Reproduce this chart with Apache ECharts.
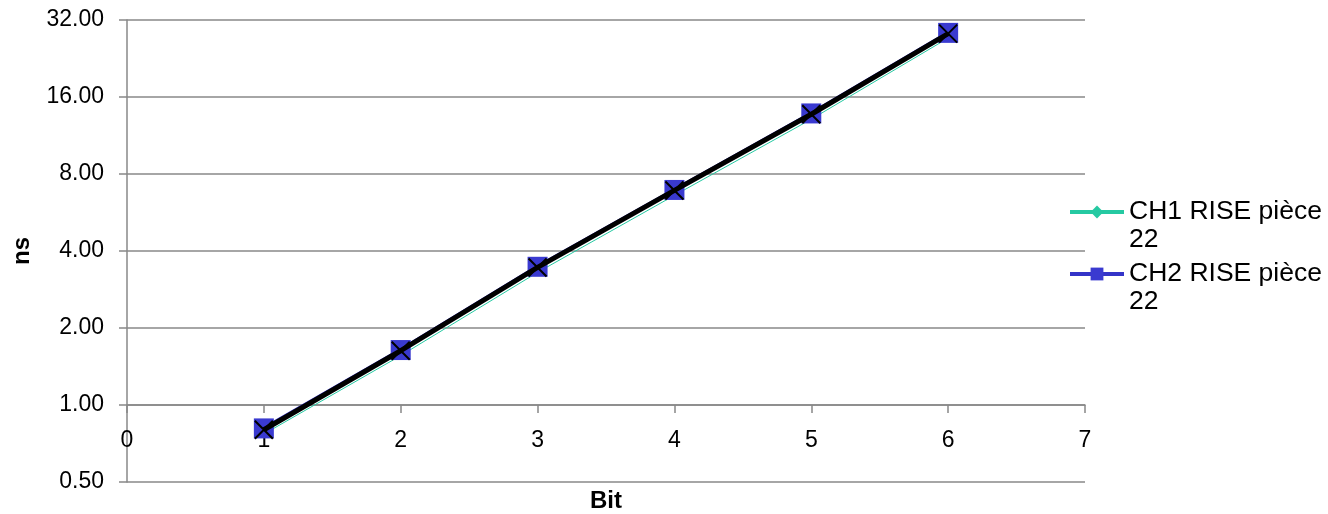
<!DOCTYPE html>
<html>
<head>
<meta charset="utf-8">
<script src="https://cdn.jsdelivr.net/npm/echarts@6/dist/echarts.min.js"></script>
<style>html,body{margin:0;padding:0;background:#fff;}#c{width:1328px;height:514px;}</style>
</head>
<body>
<div id="c"></div>
<script>
var bits = [1, 2, 3, 4, 5, 6];
var ch1Rise = [0.77, 1.56, 3.30, 6.60, 13.1, 27.2];
var ch2Rise = [0.81, 1.64, 3.47, 6.93, 13.8, 28.5];
var trend = [0.80, 1.63, 3.45, 6.90, 13.7, 28.3];
var xTicks = [0, 1, 2, 3, 4, 5, 6, 7];
var yTicks = [0.5, 1, 2, 4, 8, 16, 32];
var names = ['CH1 RISE pièce 22', 'CH2 RISE pièce 22'];

function pairs(ys) { return bits.map(function (b, i) { return [b, ys[i]]; }); }

var FONT = 'Liberation Sans, Arial, sans-serif';
var FS = 23;
var LFS = 26.5;
var chart = echarts.init(document.getElementById('c'));
var legendText = { fontFamily: FONT, fontSize: LFS, color: '#000', lineHeight: 28 };
function legendFmt(n) { return '\n' + n.replace(' 22', '\n22'); }
chart.setOption({
  animation: false,
  backgroundColor: '#fff',
  grid: { left: 127, right: 243, top: 20, bottom: 32, containLabel: false },
  legend: [
    {
      data: [{ name: names[0] }], orient: 'vertical', left: 1063, top: 165,
      itemWidth: 54, itemHeight: 16, itemGap: 0,
      lineStyle: { width: 4 },
      textStyle: legendText, formatter: legendFmt
    },
    {
      data: [{ name: names[1] }], orient: 'vertical', left: 1063, top: 227,
      itemWidth: 54, itemHeight: 16, itemGap: 0,
      lineStyle: { width: 4 },
      textStyle: legendText, formatter: legendFmt
    }
  ],
  xAxis: {
    type: 'value', min: xTicks[0], max: xTicks[xTicks.length - 1], interval: 1,
    offset: -77,
    axisLine: { show: true, lineStyle: { color: '#888', width: 1.5 } },
    axisTick: { show: true, length: 8, inside: false, lineStyle: { color: '#888', width: 1.5 } },
    splitLine: { show: false },
    axisLabel: { color: '#000', fontFamily: FONT, fontSize: FS, margin: 24 }
  },
  yAxis: {
    type: 'log', logBase: 2, min: yTicks[0], max: yTicks[yTicks.length - 1],
    name: 'ns', nameLocation: 'middle', nameGap: 93,
    nameTextStyle: { color: '#000', fontFamily: FONT, fontSize: 24, fontWeight: 'bold' },
    axisLine: { show: true, lineStyle: { color: '#888', width: 1.5 } },
    axisTick: { show: true, length: 8, lineStyle: { color: '#888', width: 1.5 } },
    splitLine: { show: true, lineStyle: { color: '#888', width: 1.5 } },
    axisLabel: {
      color: '#000', fontFamily: FONT, fontSize: FS, margin: 23,
      formatter: function (v) { return Number(v).toFixed(2); }
    }
  },
  graphic: [{
    type: 'text', left: 590, top: 489,
    style: { text: 'Bit', fontFamily: FONT, fontSize: 24, fontWeight: 'bold', fill: '#000' }
  }],
  series: [
    {
      name: names[0], type: 'line', data: pairs(ch1Rise),
      symbol: 'diamond', symbolSize: 14, showSymbol: false,
      lineStyle: { color: '#25c9a2', width: 1 },
      itemStyle: { color: '#25c9a2' }, z: 2
    },
    {
      name: names[1], type: 'line', data: pairs(ch2Rise),
      symbol: 'rect', symbolSize: 20,
      lineStyle: { color: '#3434c8', width: 4 },
      itemStyle: { color: '#3a3ad0' }, z: 3
    },
    {
      name: 'trend', type: 'line', data: pairs(trend),
      symbol: 'path://M0,0L10,10M10,0L0,10', symbolSize: 18,
      lineStyle: { color: '#000', width: 5 },
      itemStyle: { color: 'none', borderColor: '#000', borderWidth: 2 }, z: 4
    }
  ]
});
</script>
</body>
</html>
